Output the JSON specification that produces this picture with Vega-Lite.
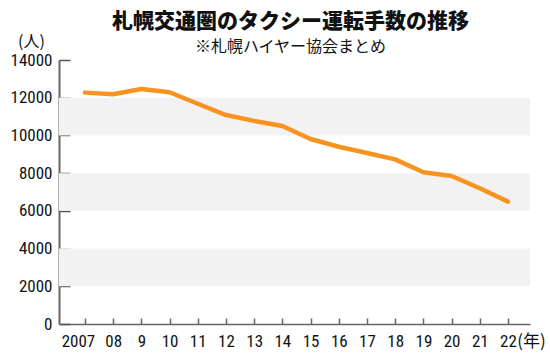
{
  "$schema": "https://vega.github.io/schema/vega-lite/v6.json",
  "autosize": {"type": "none"},
  "width": 471,
  "height": 264,
  "padding": {"left": 59, "top": 60, "right": 20, "bottom": 39},
  "background": "white",
  "config": {"view": {"stroke": null}},
  "title": {
    "text": "札幌交通圏のタクシー運転手数の推移",
    "subtitle": "※札幌ハイヤー協会まとめ",
    "anchor": "middle",
    "dx": -4,
    "offset": -22,
    "font": "Noto Sans CJK JP",
    "fontSize": 21,
    "fontWeight": 900,
    "color": "#111",
    "subtitleFont": "Noto Sans CJK JP",
    "subtitleFontSize": 16,
    "subtitleColor": "#111",
    "subtitlePadding": 7
  },
  "datasets": {
    "bands": [
      {"lo": 2000, "hi": 4000},
      {"lo": 6000, "hi": 8000},
      {"lo": 10000, "hi": 12000}
    ],
    "drivers": [
      {"year": 2007, "drivers": 12270},
      {"year": 2008, "drivers": 12180},
      {"year": 2009, "drivers": 12460},
      {"year": 2010, "drivers": 12290},
      {"year": 2011, "drivers": 11680},
      {"year": 2012, "drivers": 11080},
      {"year": 2013, "drivers": 10770},
      {"year": 2014, "drivers": 10500},
      {"year": 2015, "drivers": 9810},
      {"year": 2016, "drivers": 9400},
      {"year": 2017, "drivers": 9070},
      {"year": 2018, "drivers": 8730},
      {"year": 2019, "drivers": 8045},
      {"year": 2020, "drivers": 7850},
      {"year": 2021, "drivers": 7200},
      {"year": 2022, "drivers": 6490}
    ]
  },
  "encoding": {
    "y": {
      "type": "quantitative",
      "title": "(人)",
      "scale": {"domain": [0, 14000], "nice": false},
      "axis": {
        "values": [0, 2000, 4000, 6000, 8000, 10000, 12000, 14000],
        "format": "d",
        "grid": false,
        "domainColor": "#666",
        "domainWidth": 2,
        "tickColor": "#555",
        "tickWidth": 1.5,
        "tickSize": -11,
        "labelPadding": 18,
        "labelFont": "Liberation Sans Narrow, Arial Narrow, Roboto Condensed, Noto Sans",
        "labelFontSize": 17,
        "labelColor": "#111",
        "labelFlush": false,
        "labelOverlap": false,
        "titleFont": "Noto Sans CJK JP",
        "titleFontSize": 16,
        "titleFontWeight": "normal",
        "titleColor": "#111",
        "titleAngle": 0,
        "titleAlign": "center",
        "titleBaseline": "middle",
        "titleX": -28,
        "titleY": -19
      }
    }
  },
  "layer": [
    {
      "data": {"name": "bands"},
      "mark": {"type": "rect", "color": "#f2f2f3"},
      "encoding": {
        "x": {"value": 0},
        "x2": {"value": "width"},
        "y": {"field": "lo", "type": "quantitative", "title": "(人)"},
        "y2": {"field": "hi"}
      }
    },
    {
      "data": {"name": "drivers"},
      "mark": {"type": "line", "color": "#f7931e", "strokeWidth": 4.5, "strokeCap": "round", "strokeJoin": "round"},
      "encoding": {
        "x": {
          "field": "year",
          "type": "quantitative",
          "scale": {"domain": [2006.08, 2022.78], "nice": false, "zero": false},
          "axis": {
            "values": [2007, 2008, 2009, 2010, 2011, 2012, 2013, 2014, 2015, 2016, 2017, 2018, 2019, 2020, 2021, 2022],
            "labelExpr": "datum.value == 2007 ? '2007' : datum.value == 2008 ? '08' : toString(datum.value - 2000)",
            "labelOffset": {"condition": {"test": "datum.value == 2007", "value": -7}, "value": 0},
            "grid": false,
            "domainColor": "#666",
            "domainWidth": 1.5,
            "tickColor": "#666",
            "tickWidth": 1.5,
            "tickSize": -6,
            "labelPadding": 15,
            "labelFont": "Liberation Sans Narrow, Arial Narrow, Roboto Condensed, Noto Sans",
            "labelFontSize": 17,
            "labelColor": "#111",
            "labelBaseline": "top",
            "labelFlush": false,
            "labelOverlap": false,
            "title": "(年)",
            "titleFont": "Noto Sans CJK JP",
            "titleFontSize": 17,
            "titleFontWeight": "normal",
            "titleColor": "#111",
            "titleAngle": 0,
            "titleAlign": "center",
            "titleBaseline": "middle",
            "titleX": 472,
            "titleY": 17
          }
        },
        "y": {"field": "drivers", "type": "quantitative", "title": "(人)"}
      }
    }
  ]
}
